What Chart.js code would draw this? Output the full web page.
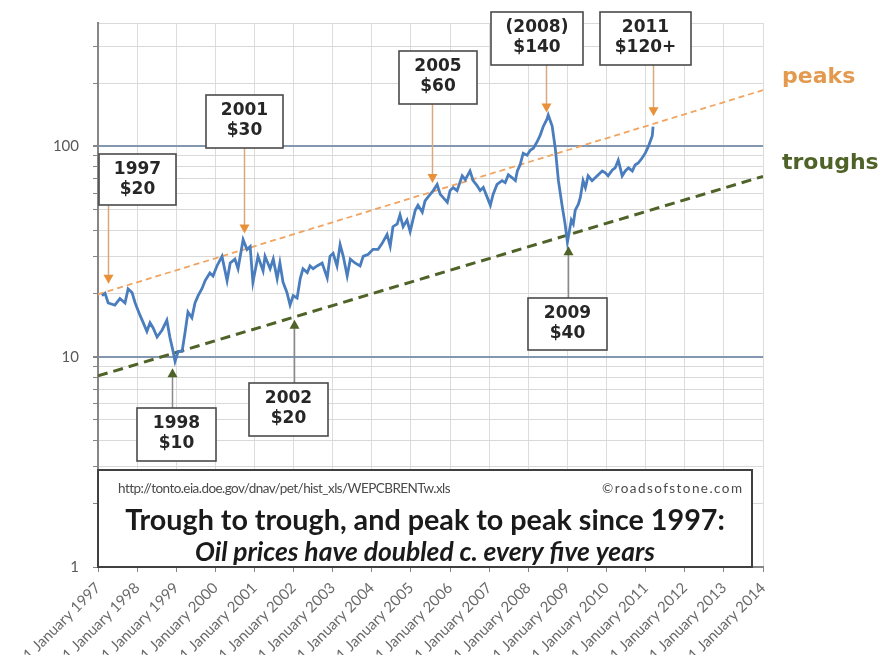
<!DOCTYPE html>
<html><head><meta charset="utf-8">
<script src="https://cdn.jsdelivr.net/npm/chart.js@4.4.1/dist/chart.umd.min.js"></script>
<style>html,body{margin:0;padding:0;background:#fff;}#wrap{width:884px;height:655px;}</style>
</head><body><div id="wrap"><canvas id="c" width="884" height="655"></canvas></div>
<script>
// ---- data ----
const dates = [1997.10,1997.18,1997.26,1997.43,1997.56,1997.69,1997.77,1997.87,1997.95,1998.07,1998.15,1998.25,1998.33,1998.41,1998.51,1998.64,1998.76,1998.84,1998.92,1998.97,1999.05,1999.15,1999.23,1999.30,1999.40,1999.48,1999.56,1999.66,1999.74,1999.86,1999.94,2000.04,2000.17,2000.30,2000.38,2000.50,2000.58,2000.71,2000.81,2000.89,2000.96,2001.09,2001.22,2001.27,2001.40,2001.48,2001.58,2001.65,2001.73,2001.83,2001.91,2001.99,2002.09,2002.17,2002.24,2002.35,2002.42,2002.50,2002.60,2002.73,2002.86,2002.93,2003.01,2003.11,2003.19,2003.27,2003.37,2003.45,2003.57,2003.70,2003.78,2003.91,2004.03,2004.16,2004.26,2004.39,2004.47,2004.54,2004.65,2004.72,2004.80,2004.90,2004.98,2005.11,2005.18,2005.29,2005.36,2005.49,2005.57,2005.67,2005.75,2005.82,2005.93,2006.00,2006.08,2006.18,2006.31,2006.39,2006.51,2006.59,2006.69,2006.77,2006.85,2006.95,2007.03,2007.10,2007.20,2007.33,2007.41,2007.49,2007.59,2007.67,2007.72,2007.79,2007.87,2007.97,2008.05,2008.13,2008.23,2008.30,2008.38,2008.48,2008.51,2008.61,2008.69,2008.77,2008.87,2008.94,2009.00,2009.10,2009.15,2009.20,2009.28,2009.33,2009.40,2009.46,2009.53,2009.63,2009.71,2009.79,2009.89,2009.97,2010.04,2010.15,2010.22,2010.30,2010.35,2010.40,2010.48,2010.56,2010.66,2010.73,2010.81,2010.91,2010.99,2011.07,2011.17,2011.19];
const prices = [19.5,20.0,18.0,17.6,18.9,18.0,21.0,20.2,18.0,15.8,14.6,13.2,14.5,13.7,12.4,13.4,14.9,12.3,10.6,9.5,10.6,10.6,13.2,16.3,15.3,18.0,19.5,21.1,23.0,25.0,24.2,27.0,30.0,23.0,27.9,29.1,26.2,36.0,32.3,33.4,22.6,30.0,25.6,30.0,26.2,29.1,23.5,27.9,22.6,20.2,17.6,19.5,19.0,23.5,26.2,25.1,27.0,26.2,27.0,27.9,23.7,30.0,31.0,27.0,34.1,30.0,24.2,29.1,27.9,27.0,30.0,30.7,32.4,32.4,34.5,38.1,33.5,41.5,42.8,47.2,41.5,44.6,39.3,49.7,52.5,48.7,55.0,59.1,61.6,65.9,59.1,57.2,54.2,61.6,63.7,61.6,72.4,69.4,76.4,68.7,65.1,61.6,63.7,57.2,52.5,59.1,65.9,68.7,67.2,73.3,70.9,68.7,76.4,81.6,92.8,90.8,95.8,97.9,105.5,112.5,124,135,141,125,97.9,68.7,51.4,42.8,35.0,44.6,42.8,49.7,53.1,57.2,68.7,63.7,72.4,68.7,70.9,73.3,76.4,74.8,72.4,77.3,79.0,86.0,79.0,72.4,76.4,79.0,76.4,81.6,83.3,88.0,92.8,100,112.5,124];

const trendYears = [1997, 2014];
const peaksTrend = [19.8, 185];
const troughsTrend = [8.1, 72];

const yearTicks = [1997,1998,1999,2000,2001,2002,2003,2004,2005,2006,2007,2008,2009,2010,2011,2012,2013,2014];
const yGridValues = [1,2,3,4,5,6,7,8,9,10,20,30,40,50,60,70,80,90,100,200,300];
const yLabelValues = [1,10,100];

const calloutYear = ["1997","2001","2005","(2008)","2011","1998","2002","2009"];
const calloutPrice = ["$20","$30","$60","$140","$120+","$10","$20","$40"];
const calloutKind = ["peak","peak","peak","peak","peak","trough","trough","trough"];
const calloutAtYear = [1997.26, 2000.73, 2005.54, 2008.46, 2011.19, 1998.89, 2002.01, 2009.02];
const calloutAtPrice = [22.2, 38.5, 67, 145, 139, 8.8, 15.0, 33.5];

// ---- layout (pixels) ----
const calloutBoxes = [[99,154,77,51],[206,95,77,53],[399,51,78,53],[491,12,92,53],[600,12,91,53],[137,408,79,53],[249,383,79,53],[528,298,79,52]];

const calloutPlugin = {
  id: 'callouts',
  afterDatasetsDraw(chart) {
    const {ctx, scales: {x, y}} = chart;
    ctx.save();
    calloutYear.forEach((t, i) => {
      const [bx, by, bw, bh] = calloutBoxes[i];
      const tx = Math.round(x.getPixelForValue(calloutAtYear[i])) + 0.5;
      const ty = y.getPixelForValue(calloutAtPrice[i]);
      const down = calloutKind[i] === 'peak';
      ctx.lineWidth = 1.5;
      ctx.strokeStyle = down ? '#d8a87e' : '#8a8a8a';
      ctx.beginPath();
      if (down) { ctx.moveTo(tx, by + bh); ctx.lineTo(tx, ty - 7); }
      else { ctx.moveTo(tx, by); ctx.lineTo(tx, ty + 7); }
      ctx.stroke();
      ctx.fillStyle = down ? '#e8913a' : '#4f6228';
      ctx.beginPath();
      if (down) { ctx.moveTo(tx - 5, ty - 9); ctx.lineTo(tx + 5, ty - 9); ctx.lineTo(tx, ty); }
      else { ctx.moveTo(tx - 5, ty + 9); ctx.lineTo(tx + 5, ty + 9); ctx.lineTo(tx, ty); }
      ctx.closePath(); ctx.fill();
      ctx.fillStyle = '#ffffff';
      ctx.fillRect(bx, by, bw, bh);
      ctx.strokeStyle = '#4a4a4a'; ctx.lineWidth = 1.6;
      ctx.strokeRect(bx, by, bw, bh);
      ctx.fillStyle = '#262626';
      ctx.font = "bold 17px 'DejaVu Sans'";
      ctx.textAlign = 'center'; ctx.textBaseline = 'middle';
      ctx.fillText(t, bx + bw / 2, by + 16);
      ctx.fillText(calloutPrice[i], bx + bw / 2, by + 36);
    });
    ctx.font = "bold 22px 'DejaVu Sans'";
    ctx.textAlign = 'left'; ctx.textBaseline = 'middle';
    ctx.fillStyle = '#e39a4e';
    ctx.fillText('peaks', 782, 77);
    ctx.fillStyle = '#4f6228';
    ctx.fillText('troughs', 782, 163);
    ctx.restore();
  },
  afterDraw(chart) {
    const {ctx} = chart;
    ctx.save();
    ctx.fillStyle = '#fff';
    ctx.fillRect(98, 470, 654, 97);
    ctx.strokeStyle = '#404040'; ctx.lineWidth = 2;
    ctx.strokeRect(98, 470, 654, 97);
    function fit(text, w, style, fam) {
      ctx.font = style + ' 20px ' + fam;
      const m = ctx.measureText(text).width;
      const size = 20 * w / m;
      ctx.font = style + ' ' + size.toFixed(2) + 'px ' + fam;
      return size;
    }
    function spaced(text, w, font) {
      ctx.letterSpacing = '0px';
      ctx.font = font;
      const m = ctx.measureText(text).width;
      const ls = (w - m) / (text.length - 1);
      ctx.letterSpacing = ls.toFixed(2) + 'px';
    }
    ctx.textBaseline = 'middle';
    ctx.fillStyle = '#4a4a4a';
    ctx.textAlign = 'left';
    spaced('http://tonto.eia.doe.gov/dnav/pet/hist_xls/WEPCBRENTw.xls', 332, 'normal 13.5px Lato');
    ctx.fillText('http://tonto.eia.doe.gov/dnav/pet/hist_xls/WEPCBRENTw.xls', 118, 489);
    spaced('©roadsofstone.com', 140, 'normal 13.5px Lato');
    ctx.fillText('©roadsofstone.com', 602, 489);
    ctx.letterSpacing = '0px';
    ctx.fillStyle = '#1a1a1a';
    ctx.textAlign = 'center';
    fit('Trough to trough, and peak to peak since 1997:', 600, 'bold', 'Lato');
    ctx.fillText('Trough to trough, and peak to peak since 1997:', 425, 521);
    fit('Oil prices have doubled c. every five years', 460, 'italic bold', 'Lato');
    ctx.fillText('Oil prices have doubled c. every five years', 425, 552);
    ctx.restore();
  }
};

new Chart(document.getElementById('c'), {
  type: 'line',
  data: {
    datasets: [
      { data: dates.map((d, i) => ({x: d, y: prices[i]})), borderColor: '#4a7dbd', borderWidth: 2.8, pointRadius: 0, tension: 0, fill: false },
      { data: trendYears.map((d, i) => ({x: d, y: peaksTrend[i]})), borderColor: '#f0a460', borderWidth: 1.8, borderDash: [6, 4], pointRadius: 0 },
      { data: trendYears.map((d, i) => ({x: d, y: troughsTrend[i]})), borderColor: '#4f6228', borderWidth: 3, borderDash: [10, 6], pointRadius: 0 }
    ]
  },
  options: {
    responsive: false, animation: false, devicePixelRatio: 1,
    layout: { padding: { top: 12, right: 121, left: 0, bottom: 0 } },
    plugins: { legend: { display: false }, tooltip: { enabled: false } },
    scales: {
      x: {
        type: 'linear', min: 1997, max: 2014,
        afterBuildTicks: s => { s.ticks = yearTicks.map(v => ({value: v})); },
        afterFit: s => { s.height = 88; },
        ticks: { autoSkip: false, minRotation: 45, maxRotation: 45, padding: 7, color: '#6a6a6a', font: { family: 'Lato', size: 15 },
          callback: v => '1 January ' + v },
        grid: { color: '#dcdcdc', lineWidth: 1, tickColor: '#868686', tickLength: 5 },
        border: { color: '#868686', width: 2 }
      },
      y: {
        type: 'logarithmic', min: 1, max: 386,
        afterBuildTicks: s => { s.ticks = yGridValues.concat([386]).map(v => ({value: v})); },
        afterFit: s => { s.width = 98; },
        ticks: { padding: 14, color: '#595959', font: { family: 'Lato', size: 15 },
          callback: v => yLabelValues.includes(v) ? String(v) : '' },
        grid: {
          color: c => (c.tick && (c.tick.value === 10 || c.tick.value === 100)) ? '#8497b0' : '#d9d9d9',
          lineWidth: c => (c.tick && (c.tick.value === 10 || c.tick.value === 100)) ? 2 : 1,
          tickColor: c => (c.tick && c.tick.value === 386) ? 'rgba(0,0,0,0)' : '#868686',
          tickLength: 5
        },
        border: { color: '#868686', width: 2 }
      }
    }
  },
  plugins: [calloutPlugin]
});
</script></body></html>
